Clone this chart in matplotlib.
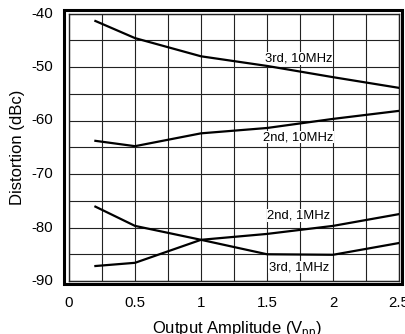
import matplotlib
matplotlib.use("Agg")
import matplotlib.pyplot as plt
from matplotlib.patches import Rectangle

plt.rcParams['font.family'] = ['Liberation Sans', 'DejaVu Sans']

amplitude = [0.2, 0.5, 1.0, 1.5, 2.0, 2.5]
third_10mhz = [-41.4, -44.6, -48.0, -49.8, -51.9, -53.9]
second_10mhz = [-63.8, -64.8, -62.4, -61.4, -59.7, -58.2]
second_1mhz = [-76.1, -79.7, -82.3, -81.2, -79.7, -77.5]
third_1mhz = [-87.2, -86.6, -82.3, -85.0, -85.1, -82.9]

series_labels = ["3rd, 10MHz", "2nd, 10MHz", "2nd, 1MHz", "3rd, 1MHz"]
label_pos = [(1.74, -48.4), (1.74, -63.1), (1.74, -77.7), (1.74, -87.4)]

x_ticks = [0, 0.5, 1, 1.5, 2, 2.5]
x_tick_labels = ["0", "0.5", "1", "1.5", "2", "2.5"]
y_ticks = [-40, -50, -60, -70, -80, -90]
y_tick_labels = ["-40", "-50", "-60", "-70", "-80", "-90"]

W, H = 405, 334
fig = plt.figure(figsize=(W / 100, H / 100), dpi=100)
left, right, top, bottom = 69, 399, 13.5, 281
ax = fig.add_axes([left / W, 1 - bottom / H, (right - left) / W, (bottom - top) / H])

for ys in [third_10mhz, second_10mhz, second_1mhz, third_1mhz]:
    ax.plot(amplitude, ys, color='black', lw=1.6, solid_joinstyle='miter', zorder=3)

for (lx, ly), txt in zip(label_pos, series_labels):
    ax.text(lx, ly, txt, ha='center', va='center', fontsize=9.4, color='black',
            bbox=dict(facecolor='white', edgecolor='none', pad=0.3), zorder=2)

ax.set_xlim(0, 2.5)
ax.set_ylim(-90, -40)
ax.set_xticks([i * 0.25 for i in range(11)], minor=False)
ax.set_yticks([-40 - 5 * i for i in range(11)])
ax.grid(True, color='#222222', lw=0.8, zorder=1)
ax.tick_params(length=0, labelbottom=False, labelleft=False)
for s in ax.spines.values():
    s.set_linewidth(1.0)
    s.set_color('#222222')

def fx(v):
    return (left + (right - left) * v / 2.5) / W

def fy(v):
    return 1 - (top + (bottom - top) * (-40 - v) / 50) / H

for v, t in zip(x_ticks, x_tick_labels):
    fig.text(fx(v), 1 - 303 / H, t, ha='center', va='center', fontsize=10.8)
for v, t in zip(y_ticks, y_tick_labels):
    fig.text(53.5 / W, fy(v), t, ha='right', va='center', fontsize=10.8)

fig.text(18 / W, 1 - 147 / H, "Distortion (dBc)", rotation=90, ha='center', va='center', fontsize=12)
fig.text(237 / W, 1 - 333.5 / H, r"Output Amplitude (V$_{\mathregular{pp}}$)", ha='center', va='baseline', fontsize=12)

fig.patches.append(Rectangle((64 / W, 1 - 283.5 / H), (401.8 - 64) / W, (283.5 - 9.5) / H,
                             transform=fig.transFigure, fill=False, lw=2.2, edgecolor='black'))

fig.savefig("out.png", dpi=100)
